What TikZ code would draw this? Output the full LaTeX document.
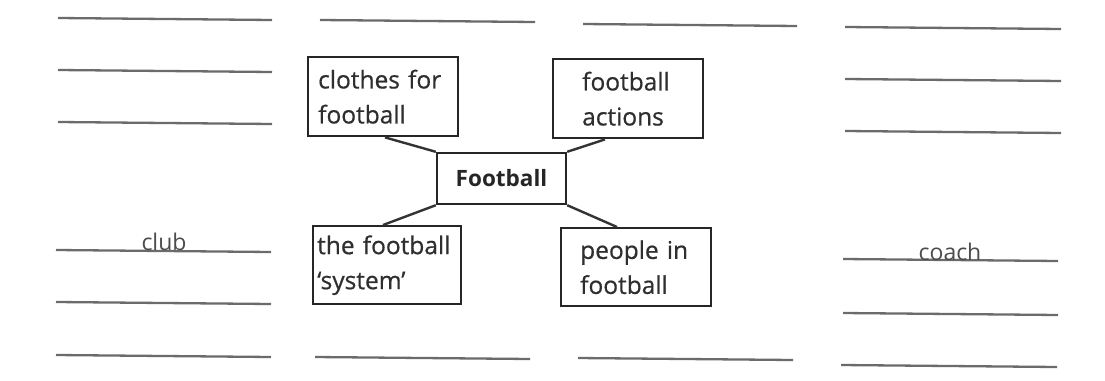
\documentclass[tikz,border=0pt]{standalone}
\usepackage{fontspec}
\setmainfont{Open Sans}
\newfontfamily\boldish[FakeBold=0.6]{Open Sans}
\begin{document}
\begin{tikzpicture}[x=1pt,y=-1pt,
  wline/.style={draw=black!58, line width=2.3pt},
  box/.style={draw=black!85, line width=2.4pt, rectangle, anchor=north west,
    align=left, font=\boldish\fontsize{24.5}{35}\selectfont, text=black!82, inner ysep=0pt},
  link/.style={draw=black!80, line width=2.4pt},
  hand/.style={font=\fontsize{23}{23}\selectfont, text=black!70, anchor=base, inner sep=0pt}
]
\useasboundingbox[fill=white] (0,0) rectangle (1105,380);
% writing lines
\draw[wline] (58,18) -- (272,20);
\draw[wline] (58,70) -- (272,72);
\draw[wline] (58,122) -- (272,124);
\draw[wline] (56,250) -- (271,252);
\draw[wline] (56,302) -- (271,304);
\draw[wline] (56,355) -- (271,357);
\draw[wline] (320,20) -- (535,22);
\draw[wline] (315,357) -- (530,359);
\draw[wline] (583,24) -- (797,26);
\draw[wline] (578,358) -- (793,360);
\draw[wline] (845,27) -- (1061,29);
\draw[wline] (845,79) -- (1061,81);
\draw[wline] (845,131) -- (1061,133);
\draw[wline] (843,259) -- (1058,261);
\draw[wline] (843,313) -- (1058,315);
\draw[wline] (841,365) -- (1057,367);
% boxes
\node[box, inner xsep=10pt, text width=130pt, minimum height=79pt] (clothes) at (307,56) {clothes for\\football};
\node[box, inner xsep=29pt, text width=92pt, minimum height=79pt] (actions) at (552,58) {football\\actions};
\node[draw=black!85, line width=2.4pt, rectangle, minimum width=129pt, minimum height=51pt,
  font=\fontsize{22.5}{22.5}\selectfont\bfseries, text=black!85] (centre) at (501.5,178.5) {Football};
\node[box, inner xsep=4pt, text width=140pt, minimum height=78pt] (system) at (312,225) {the football\\‘system’};
\node[box, inner xsep=19pt, text width=112pt, minimum height=78pt] (people) at (560,227) {people in\\football};
% connectors
\draw[link] ([xshift=78pt]clothes.south west) -- (centre.north west);
\draw[link] ([xshift=53pt]actions.south west) -- (centre.north east);
\draw[link] (centre.south west) -- ([xshift=71pt]system.north west);
\draw[link] (centre.south east) -- ([xshift=57pt]people.north west);
% handwritten words
\node[hand] (club) at (164,250) {club};
\node[hand] (coach) at (950,260) {coach};
\end{tikzpicture}
\end{document}
